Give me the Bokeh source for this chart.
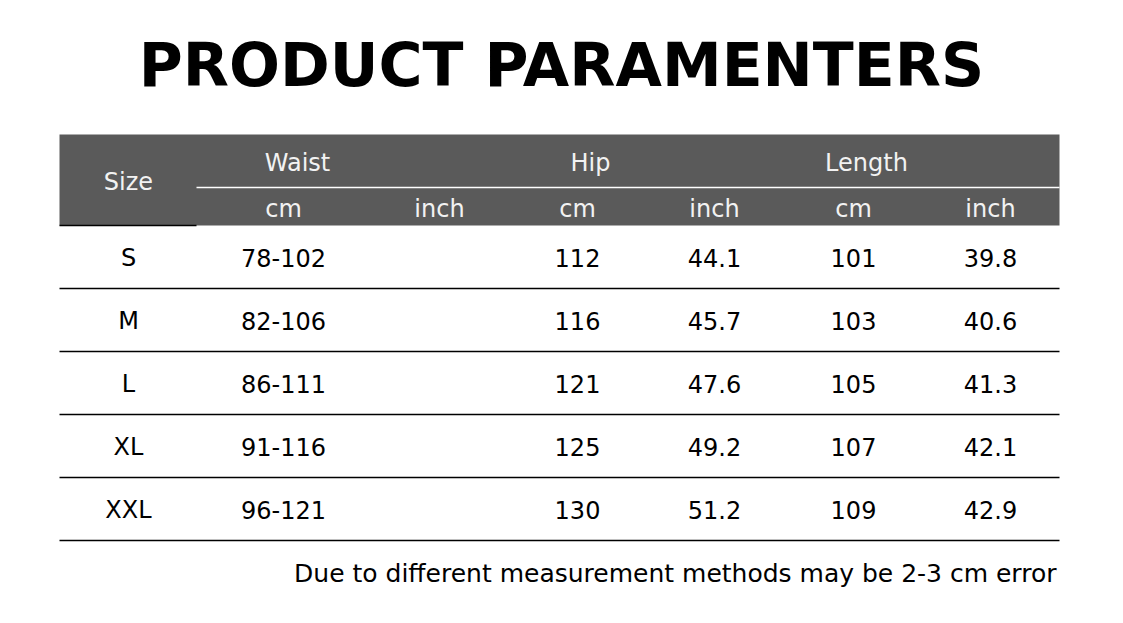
from bokeh.plotting import figure
from bokeh.models import Range1d, ColumnDataSource
from bokeh.core.properties import value
from bokeh.embed import file_html
from bokeh.resources import INLINE

# ---- data ----
title = "PRODUCT PARAMENTERS"
note = "Due to different measurement methods may be 2-3 cm error"
groups = ["Waist", "Hip", "Length"]
units = ["cm", "inch", "cm", "inch", "cm", "inch"]
sizes = ["S", "M", "L", "XL", "XXL"]
waist_cm = ["78-102", "82-106", "86-111", "91-116", "96-121"]
waist_inch = ["", "", "", "", ""]
hip_cm = ["112", "116", "121", "125", "130"]
hip_inch = ["44.1", "45.7", "47.6", "49.2", "51.2"]
length_cm = ["101", "103", "105", "107", "109"]
length_inch = ["39.8", "40.6", "41.3", "42.1", "42.9"]

# ---- layout (page pixel coordinates) ----
W, H = 1107, 607
TL, TR = 59, 1059
HEAD_TOP, HEAD_MID, HEAD_BOT = 134, 187, 225
ROW_H = 63
SIZE_X = 128
COL_X = [283, 439, 577, 714, 853, 990]
GROUP_X = [297, 590, 866]
GRAY = "#5a5a5a"
FONT = "DejaVu Sans"

p = figure(width=W, height=H, output_backend="svg", toolbar_location=None,
           x_range=Range1d(0, W), y_range=Range1d(H, 0),
           min_border=0, outline_line_color=None)
p.axis.visible = False
p.grid.visible = False
p.background_fill_color = "white"
p.border_fill_color = "white"

# title
p.text(x=[561], y=[64], text=[title], text_font=value(FONT), text_font_style="bold",
       text_font_size="60px", text_align="center", text_baseline="middle", text_color="black")

# header band
p.quad(left=[TL], right=[TR], top=[HEAD_TOP], bottom=[HEAD_BOT], fill_color=GRAY, line_color=None)
p.segment(x0=[196], y0=[HEAD_MID], x1=[TR], y1=[HEAD_MID], line_color="white", line_width=1.5)
p.segment(x0=[TL], y0=[HEAD_BOT], x1=[196], y1=[HEAD_BOT], line_color="black", line_width=1.5)

p.text(x=[SIZE_X], y=[181], text=["Size"], text_font=value(FONT), text_font_size="24px",
       text_align="center", text_baseline="middle", text_color="#f2f2f2")
p.text(x=GROUP_X, y=[162] * len(groups), text=groups, text_font=value(FONT), text_font_size="24px",
       text_align="center", text_baseline="middle", text_color="#f2f2f2")
p.text(x=COL_X, y=[208] * len(units), text=units, text_font=value(FONT), text_font_size="24px",
       text_align="center", text_baseline="middle", text_color="#f2f2f2")

# body rows
cols = [waist_cm, waist_inch, hip_cm, hip_inch, length_cm, length_inch]
xs, ys, ts = [], [], []
for i, s in enumerate(sizes):
    yc = HEAD_BOT + ROW_H * i + ROW_H / 2 + 1
    xs.append(SIZE_X); ys.append(yc); ts.append(s)
    for cx, col in zip(COL_X, cols):
        xs.append(cx); ys.append(yc); ts.append(col[i])
src = ColumnDataSource(dict(x=xs, y=ys, t=ts))
p.text(x="x", y="y", text="t", source=src, text_font=value(FONT), text_font_size="24px",
       text_align="center", text_baseline="middle", text_color="black")

ly = [HEAD_BOT + ROW_H * (i + 1) for i in range(len(sizes))]
p.segment(x0=[TL] * len(ly), y0=ly, x1=[TR] * len(ly), y1=ly, line_color="black", line_width=1.5)

# note
p.text(x=[1056], y=[573], text=[note], text_font=value(FONT), text_font_size="25px",
       text_align="right", text_baseline="middle", text_color="black")

open("out.html", "w").write(file_html(p, INLINE))
